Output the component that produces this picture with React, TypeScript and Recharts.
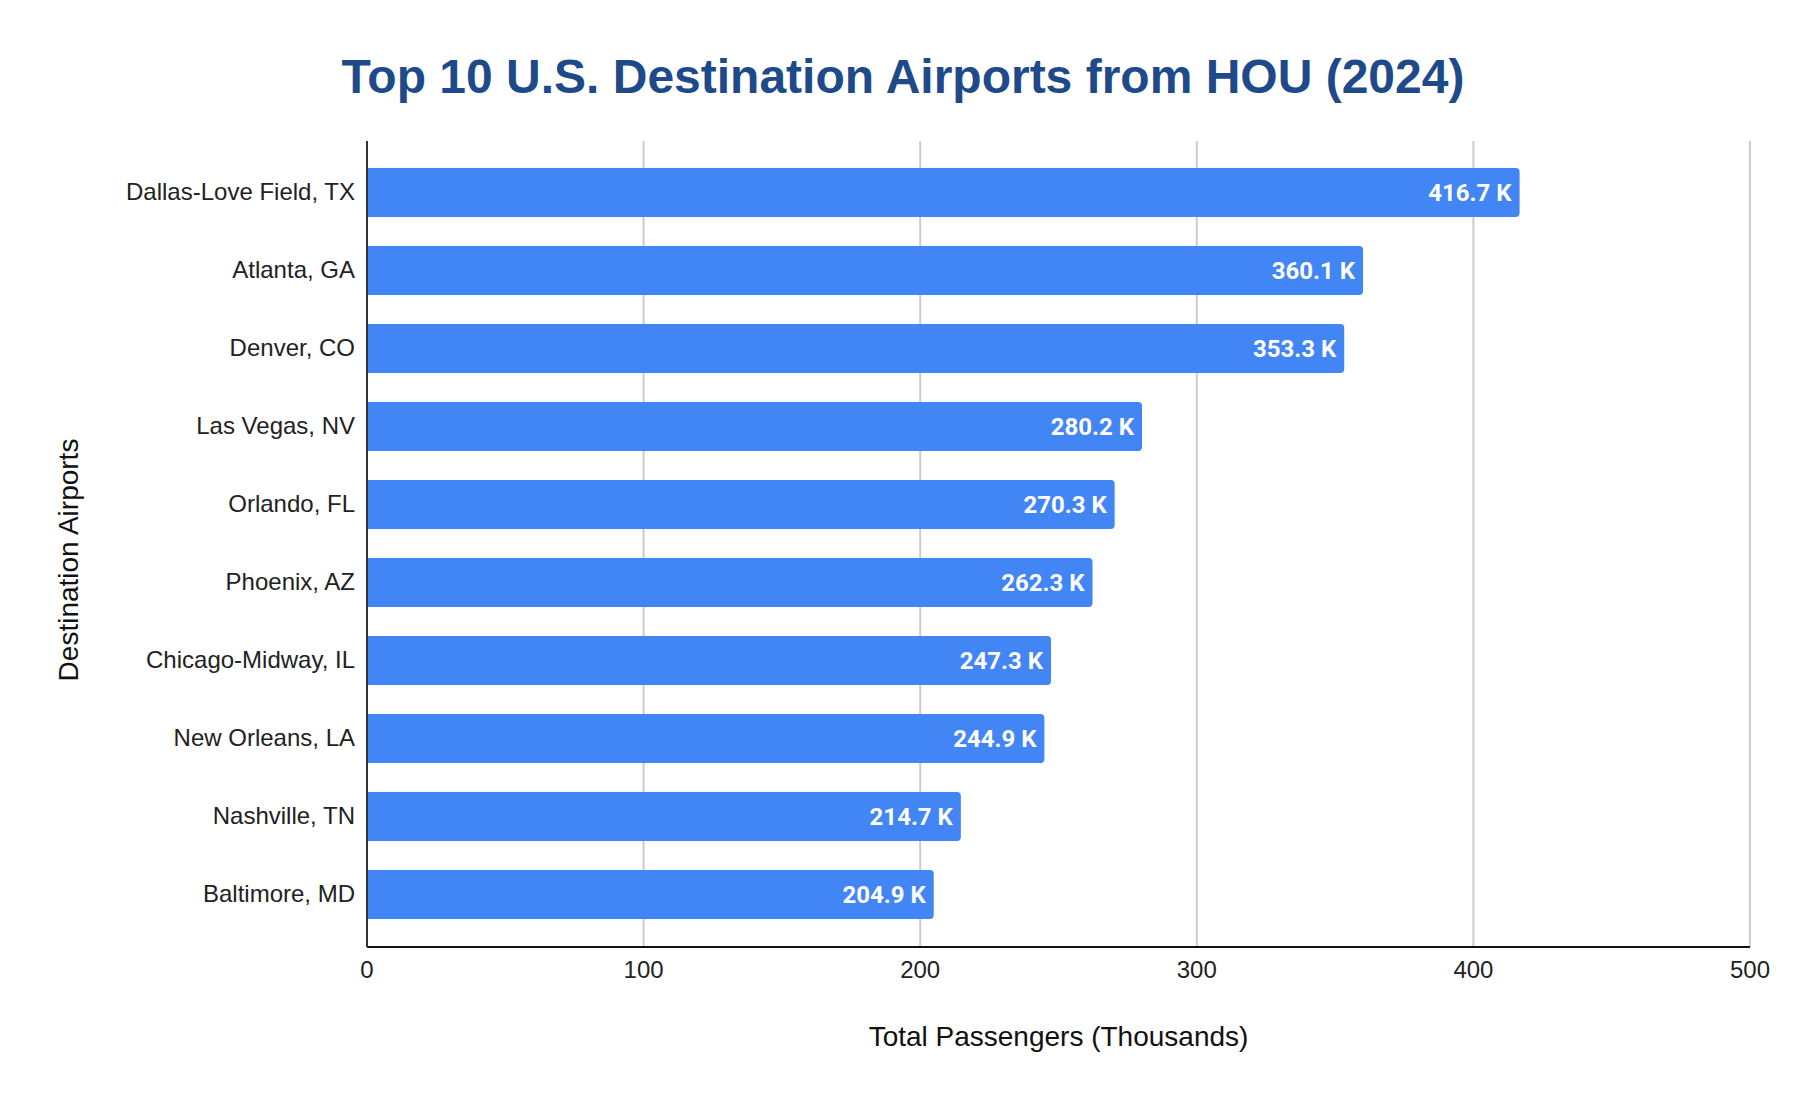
import React from "react";
import { BarChart, Bar, XAxis, YAxis, CartesianGrid, LabelList } from "recharts";

const airports = [
  "Dallas-Love Field, TX",
  "Atlanta, GA",
  "Denver, CO",
  "Las Vegas, NV",
  "Orlando, FL",
  "Phoenix, AZ",
  "Chicago-Midway, IL",
  "New Orleans, LA",
  "Nashville, TN",
  "Baltimore, MD",
];

const passengers = [416.7, 360.1, 353.3, 280.2, 270.3, 262.3, 247.3, 244.9, 214.7, 204.9];

const xTicks = [0, 100, 200, 300, 400, 500];

const data = airports.map((airport, i) => ({ airport, passengers: passengers[i] }));

const ARIAL = '"Liberation Sans", Arial, sans-serif';

export default function App() {
  return (
    <div style={{ position: "absolute", left: 0, top: 0, width: 1806, height: 1108, background: "#fff" }}>
      <div
        style={{
          position: "absolute",
          left: 0,
          top: 53,
          width: 1806,
          textAlign: "center",
          fontFamily: ARIAL,
          fontWeight: 700,
          fontSize: 48,
          lineHeight: "48px",
          color: "#1f4a8a",
          whiteSpace: "nowrap",
        }}
      >
        Top 10 U.S. Destination Airports from HOU (2024)
      </div>
      <BarChart
        width={1806}
        height={1108}
        data={data}
        layout="vertical"
        margin={{ top: 141, right: 56, bottom: 101, left: 0 }}
      >
        <CartesianGrid horizontal={false} stroke="#cccccc" strokeWidth={2} />
        <XAxis
          type="number"
          domain={[0, 500]}
          ticks={xTicks}
          height={60}
          tickSize={0}
          tickMargin={14}
          tickLine={false}
          axisLine={{ stroke: "#111", strokeWidth: 2 }}
          tick={{ fill: "#222", fontSize: 24, fontFamily: ARIAL }}
          label={{
            content: (props: any) => {
              const vb = props.viewBox;
              return (
                <text
                  x={vb.x + vb.width / 2}
                  y={vb.y + 99}
                  textAnchor="middle"
                  fill="#111"
                  fontSize={28}
                  fontFamily={ARIAL}
                >
                  Total Passengers (Thousands)
                </text>
              );
            },
          }}
        />
        <YAxis
          type="category"
          dataKey="airport"
          width={367}
          padding={{ top: 12, bottom: 14 }}
          tickSize={0}
          tickMargin={12}
          tickLine={false}
          axisLine={{ stroke: "#333", strokeWidth: 2 }}
          tick={{ fill: "#222", fontSize: 24, fontFamily: ARIAL, dy: -1 }}
          label={{
            content: (props: any) => {
              const vb = props.viewBox;
              const cy = vb.y + vb.height / 2 + 16;
              return (
                <text
                  x={78}
                  y={cy}
                  transform={`rotate(-90 78 ${cy})`}
                  textAnchor="middle"
                  fill="#111"
                  fontSize={28}
                  fontFamily={ARIAL}
                >
                  Destination Airports
                </text>
              );
            },
          }}
        />
        <Bar dataKey="passengers" fill="#4285f4" barSize={49} radius={[0, 4, 4, 0]} isAnimationActive={false}>
          <LabelList
            dataKey="passengers"
            position="insideRight"
            offset={8}
            fill="#ffffff"
            fontSize={24}
            fontWeight={700}
            fontFamily="Roboto, sans-serif"
            formatter={(v: any) => `${Number(v).toFixed(1)} K`}
          />
        </Bar>
      </BarChart>
    </div>
  );
}
